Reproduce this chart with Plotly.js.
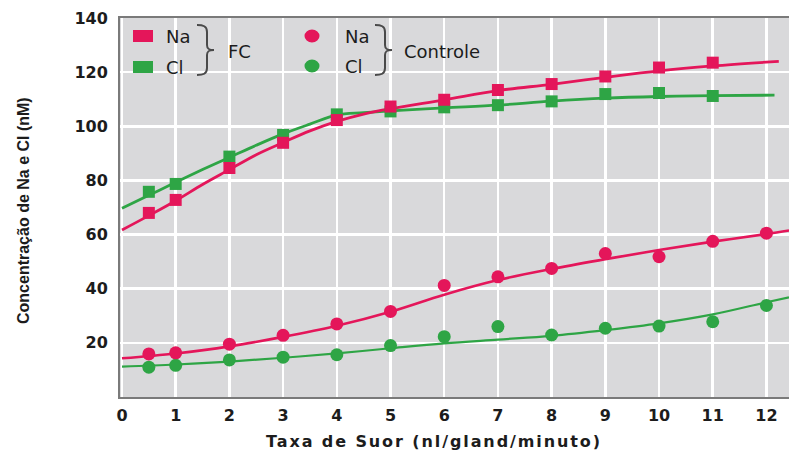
<!DOCTYPE html>
<html>
<head>
<meta charset="utf-8">
<script src="https://cdn.plot.ly/plotly-3.0.1.min.js"></script>
<style>
  html, body { margin: 0; padding: 0; background: #ffffff; }
  #chart { width: 789px; height: 452px; }
</style>
</head>
<body>
<div id="chart"></div>
<script>
// Sweat rate (nl/gland/min) at which each measurement was taken
const fcX = [0.5, 1, 2, 3, 4, 5, 6, 7, 8, 9, 10, 11];
const controlX = [0.5, 1, 2, 3, 4, 5, 6, 7, 8, 9, 10, 11, 12];

// Measured concentrations (nM)
const fcNa = [68, 72.8, 84.6, 93.9, 102.3, 107.3, 109.8, 113.4, 115.6, 118.4, 121.7, 123.5];
const fcCl = [75.8, 78.7, 88.8, 96.8, 104.4, 105.5, 107.0, 107.8, 109.2, 111.9, 112.3, 111.2];
const controlNa = [15.9, 16.3, 19.5, 22.8, 27, 31.6, 41.2, 44.4, 47.5, 53, 51.8, 57.5, 60.5];
const controlCl = [11, 11.7, 13.7, 14.7, 15.6, 19, 22.3, 26, 22.9, 25.4, 26.2, 27.8, 33.8];

// Fitted trend curves
const fcNaFitX = [0, 0.5, 1, 1.5, 2, 2.5, 3, 3.5, 4, 4.5, 5, 6, 7, 8, 9, 10, 11, 12.23];
const fcNaFit = [61.7, 67, 72.5, 78.5, 84, 89.5, 94, 98.3, 101.8, 104.5, 106.5, 109.8, 113.2, 115.5, 118.1, 120.5, 122.3, 124];
const fcClFitX = [0, 0.5, 1, 1.5, 2, 2.5, 3, 3.5, 4, 4.5, 5, 6, 7, 8, 9, 10, 11, 12.15];
const fcClFit = [69.7, 74.5, 79.3, 84, 88.5, 93, 97.2, 100.8, 104.2, 105, 105.7, 106.8, 107.8, 109.3, 110.4, 111, 111.3, 111.5];
const controlFitX = [0, 1, 2, 3, 4, 5, 6, 7, 8, 9, 10, 11, 12, 12.42];
const controlNaFit = [14.3, 16.1, 18.7, 22.2, 26.3, 31.5, 37.8, 43.2, 47.3, 50.9, 54.3, 57.4, 60.2, 61.5];
const controlClFit = [11.2, 12, 13.1, 14.5, 16.1, 18, 19.8, 21.2, 22.6, 24.7, 27.2, 30.5, 35, 36.8];

const yTicks = [20, 40, 60, 80, 100, 120, 140];
const xTicks = [0, 1, 2, 3, 4, 5, 6, 7, 8, 9, 10, 11, 12];

const RED = '#e4165a';
const GREEN = '#2ea545';
const PANEL = '#d9d9db';
const INK = '#1c1c1c';

function fitLine(x, y, color, width) {
  return { x: x, y: y, type: 'scatter', mode: 'lines', hoverinfo: 'skip',
           line: { color: color, width: width, shape: 'spline', smoothing: 1 } };
}
function points(x, y, color, symbol, size) {
  return { x: x, y: y, type: 'scatter', mode: 'markers',
           marker: { color: color, symbol: symbol, size: size, line: { width: 0 } } };
}

const traces = [
  fitLine(controlFitX, controlClFit, GREEN, 2.2),
  fitLine(controlFitX, controlNaFit, RED, 2.6),
  fitLine(fcClFitX, fcClFit, GREEN, 2.8),
  fitLine(fcNaFitX, fcNaFit, RED, 2.8),
  points(controlX, controlCl, GREEN, 'circle', 13),
  points(controlX, controlNa, RED, 'circle', 13),
  points(fcX, fcCl, GREEN, 'square', 12),
  points(fcX, fcNa, RED, 'square', 12)
];

// Key drawn inside the panel: markers, labels and grouping braces
const braceShape = 'M -10,25 C -4,25 0,24 0,18 L 0,5 C 0,1 2,0 7,0 C 2,0 0,-1 0,-5 L 0,-18 C 0,-24 -4,-25 -10,-25';
const px = v => (v - 120) / 669;   // horizontal pixel -> paper
const py = v => (397 - v) / 379;   // vertical pixel -> paper

function keyRect(x, y, color) {
  return { type: 'rect', xref: 'paper', yref: 'paper', xsizemode: 'pixel', ysizemode: 'pixel',
           xanchor: px(x), yanchor: py(y), x0: -10, x1: 10, y0: -6, y1: 6,
           fillcolor: color, line: { width: 0 } };
}
function keyDot(x, y, color) {
  return { type: 'circle', xref: 'paper', yref: 'paper', xsizemode: 'pixel', ysizemode: 'pixel',
           xanchor: px(x), yanchor: py(y), x0: -7.5, x1: 7.5, y0: -6.5, y1: 6.5,
           fillcolor: color, line: { width: 0 } };
}
function brace(x, y) {
  return { type: 'path', xref: 'paper', yref: 'paper', xsizemode: 'pixel', ysizemode: 'pixel',
           xanchor: px(x), yanchor: py(y), path: braceShape,
           line: { color: '#4a4a4a', width: 2 } };
}
function keyText(text, x, y) {
  return { text: text, xref: 'paper', yref: 'paper', x: px(x), y: py(y),
           xanchor: 'left', yanchor: 'middle', showarrow: false,
           font: { family: 'DejaVu Sans', size: 18, color: INK } };
}

const shapes = [
  { type: 'rect', xref: 'paper', yref: 'paper', layer: 'between',
    x0: 0, x1: px(392), y0: py(75), y1: 1, fillcolor: PANEL, line: { width: 0 } },
  keyRect(143, 36, RED), keyRect(143, 67, GREEN),
  keyDot(312, 36, RED), keyDot(312, 66, GREEN),
  brace(207, 50), brace(385, 50)
];

const annotations = [
  keyText('Na', 164, 36), keyText('Cl', 164, 67), keyText('FC', 226, 51),
  keyText('Na', 343, 36), keyText('Cl', 343, 66), keyText('Controle', 402, 51),
  { text: '<span style="letter-spacing:1.9px">Taxa de Suor (nl/gland/minuto)</span>',
    xref: 'paper', yref: 'paper', x: px(434), y: py(441), xanchor: 'center', yanchor: 'middle',
    showarrow: false, font: { family: 'DejaVu Sans', size: 16, weight: 'bold', color: INK } },
  { text: 'Concentração de Na e Cl (nM)', textangle: -90,
    xref: 'paper', yref: 'paper', x: px(23), y: py(211), xanchor: 'center', yanchor: 'middle',
    showarrow: false, font: { family: 'Liberation Sans', size: 16, weight: 'bold', color: INK } }
];

const layout = {
  width: 789, height: 452,
  margin: { l: 120, r: 0, t: 18, b: 55 },
  paper_bgcolor: '#ffffff',
  plot_bgcolor: PANEL,
  showlegend: false,
  xaxis: {
    range: [-0.037, 12.42], tickvals: xTicks, ticktext: xTicks.map(String),
    showgrid: true, gridcolor: '#ffffff', gridwidth: 2.5, zeroline: false,
    showline: true, linecolor: '#7a7a7a', linewidth: 2, mirror: true,
    ticks: '', ticklabelstandoff: 3,
    tickfont: { family: 'DejaVu Sans', size: 16, weight: 'bold', color: INK }
  },
  yaxis: {
    range: [0, 140], tickvals: yTicks, ticktext: yTicks.map(String),
    showgrid: true, gridcolor: '#ffffff', gridwidth: 2.5, zeroline: false,
    showline: true, linecolor: '#7a7a7a', linewidth: 2,
    ticks: '', ticklabelstandoff: 7,
    tickfont: { family: 'DejaVu Sans', size: 16, weight: 'bold', color: INK }
  },
  shapes: shapes,
  annotations: annotations
};

Plotly.newPlot('chart', traces, layout, { displayModeBar: false, staticPlot: true });
</script>
</body>
</html>
